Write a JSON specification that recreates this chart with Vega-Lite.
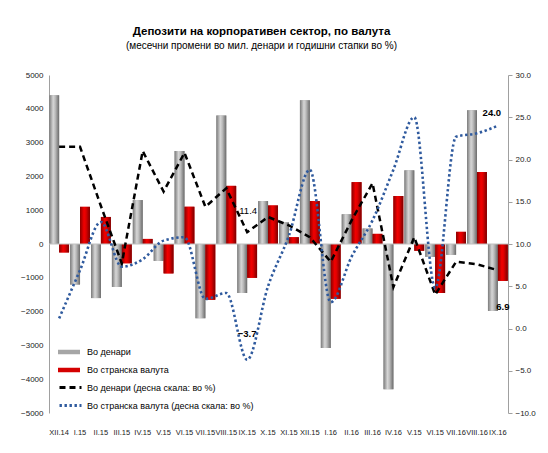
{
  "$schema": "https://vega.github.io/schema/vega-lite/v6.json",
  "width": 459,
  "height": 338,
  "autosize": {"type": "none"},
  "padding": {"left": 49, "top": 75, "right": 40, "bottom": 40},
  "background": "white",
  "title": {
    "text": "Депозити на корпоративен сектор, по валута",
    "subtitle": "(месечни промени во мил. денари и годишни стапки во %)",
    "anchor": "middle",
    "dx": -17,
    "font": "Liberation Sans",
    "fontSize": 11.5,
    "fontWeight": "bold",
    "color": "#000000",
    "subtitleFont": "Liberation Sans",
    "subtitleFontSize": 10,
    "subtitleColor": "#000000",
    "subtitlePadding": 4,
    "offset": 20
  },
  "datasets": {
    "bars": [
      {"i": 0, "m": "XII.14", "series": "Во денари", "value": 4400},
      {"i": 0, "m": "XII.14", "series": "Во странска валута", "value": -250},
      {"i": 1, "m": "I.15", "series": "Во денари", "value": -1200},
      {"i": 1, "m": "I.15", "series": "Во странска валута", "value": 1100},
      {"i": 2, "m": "II.15", "series": "Во денари", "value": -1600},
      {"i": 2, "m": "II.15", "series": "Во странска валута", "value": 800},
      {"i": 3, "m": "III.15", "series": "Во денари", "value": -1270},
      {"i": 3, "m": "III.15", "series": "Во странска валута", "value": -570},
      {"i": 4, "m": "IV.15", "series": "Во денари", "value": 1300},
      {"i": 4, "m": "IV.15", "series": "Во странска валута", "value": 150},
      {"i": 5, "m": "V.15", "series": "Во денари", "value": -500},
      {"i": 5, "m": "V.15", "series": "Во странска валута", "value": -870},
      {"i": 6, "m": "VI.15", "series": "Во денари", "value": 2750},
      {"i": 6, "m": "VI.15", "series": "Во странска валута", "value": 1100},
      {"i": 7, "m": "VII.15", "series": "Во денари", "value": -2200},
      {"i": 7, "m": "VII.15", "series": "Во странска валута", "value": -1650},
      {"i": 8, "m": "VIII.15", "series": "Во денари", "value": 3800},
      {"i": 8, "m": "VIII.15", "series": "Во странска валута", "value": 1720},
      {"i": 9, "m": "IX.15", "series": "Во денари", "value": -1450},
      {"i": 9, "m": "IX.15", "series": "Во странска валута", "value": -1000},
      {"i": 10, "m": "X.15", "series": "Во денари", "value": 1270},
      {"i": 10, "m": "X.15", "series": "Во странска валута", "value": 1140},
      {"i": 11, "m": "XI.15", "series": "Во денари", "value": 640},
      {"i": 11, "m": "XI.15", "series": "Во странска валута", "value": 200},
      {"i": 12, "m": "XII.15", "series": "Во денари", "value": 4250},
      {"i": 12, "m": "XII.15", "series": "Во странска валута", "value": 1270},
      {"i": 13, "m": "I.16", "series": "Во денари", "value": -3080},
      {"i": 13, "m": "I.16", "series": "Во странска валута", "value": -1620},
      {"i": 14, "m": "II.16", "series": "Во денари", "value": 880},
      {"i": 14, "m": "II.16", "series": "Во странска валута", "value": 1830},
      {"i": 15, "m": "III.16", "series": "Во денари", "value": 460},
      {"i": 15, "m": "III.16", "series": "Во странска валута", "value": 300},
      {"i": 16, "m": "IV.16", "series": "Во денари", "value": -4300},
      {"i": 16, "m": "IV.16", "series": "Во странска валута", "value": 1420},
      {"i": 17, "m": "V.15", "series": "Во денари", "value": 2180},
      {"i": 17, "m": "V.15", "series": "Во странска валута", "value": -200},
      {"i": 18, "m": "VI.15", "series": "Во денари", "value": -380},
      {"i": 18, "m": "VI.15", "series": "Во странска валута", "value": -1450},
      {"i": 19, "m": "VII.16", "series": "Во денари", "value": -320},
      {"i": 19, "m": "VII.16", "series": "Во странска валута", "value": 360},
      {"i": 20, "m": "VIII.16", "series": "Во денари", "value": 3960},
      {"i": 20, "m": "VIII.16", "series": "Во странска валута", "value": 2130},
      {"i": 21, "m": "IX.16", "series": "Во денари", "value": -1980},
      {"i": 21, "m": "IX.16", "series": "Во странска валута", "value": -1090}
    ],
    "lines": [
      {"i": 0, "m": "XII.14", "series": "Во денари (десна скала: во %)", "value": 21.5},
      {"i": 1, "m": "I.15", "series": "Во денари (десна скала: во %)", "value": 21.5},
      {"i": 2, "m": "II.15", "series": "Во денари (десна скала: во %)", "value": 14.5},
      {"i": 3, "m": "III.15", "series": "Во денари (десна скала: во %)", "value": 7.7},
      {"i": 4, "m": "IV.15", "series": "Во денари (десна скала: во %)", "value": 21.0},
      {"i": 5, "m": "V.15", "series": "Во денари (десна скала: во %)", "value": 16.2},
      {"i": 6, "m": "VI.15", "series": "Во денари (десна скала: во %)", "value": 20.8},
      {"i": 7, "m": "VII.15", "series": "Во денари (десна скала: во %)", "value": 14.4},
      {"i": 8, "m": "VIII.15", "series": "Во денари (десна скала: во %)", "value": 16.6},
      {"i": 9, "m": "IX.15", "series": "Во денари (десна скала: во %)", "value": 11.4},
      {"i": 10, "m": "X.15", "series": "Во денари (десна скала: во %)", "value": 13.2},
      {"i": 11, "m": "XI.15", "series": "Во денари (десна скала: во %)", "value": 12.2},
      {"i": 12, "m": "XII.15", "series": "Во денари (десна скала: во %)", "value": 10.8},
      {"i": 13, "m": "I.16", "series": "Во денари (десна скала: во %)", "value": 7.9},
      {"i": 14, "m": "II.16", "series": "Во денари (десна скала: во %)", "value": 12.8},
      {"i": 15, "m": "III.16", "series": "Во денари (десна скала: во %)", "value": 17.2},
      {"i": 16, "m": "IV.16", "series": "Во денари (десна скала: во %)", "value": 4.9},
      {"i": 17, "m": "V.15", "series": "Во денари (десна скала: во %)", "value": 10.8},
      {"i": 18, "m": "VI.15", "series": "Во денари (десна скала: во %)", "value": 4.0},
      {"i": 19, "m": "VII.16", "series": "Во денари (десна скала: во %)", "value": 7.9},
      {"i": 20, "m": "VIII.16", "series": "Во денари (десна скала: во %)", "value": 7.6},
      {"i": 21, "m": "IX.16", "series": "Во денари (десна скала: во %)", "value": 6.9},
      {"i": 0, "m": "XII.14", "series": "Во странска валута (десна скала: во %)", "value": 1.2},
      {"i": 1, "m": "I.15", "series": "Во странска валута (десна скала: во %)", "value": 6.9},
      {"i": 2, "m": "II.15", "series": "Во странска валута (десна скала: во %)", "value": 12.6},
      {"i": 3, "m": "III.15", "series": "Во странска валута (десна скала: во %)", "value": 7.3},
      {"i": 4, "m": "IV.15", "series": "Во странска валута (десна скала: во %)", "value": 8.2},
      {"i": 5, "m": "V.15", "series": "Во странска валута (десна скала: во %)", "value": 10.4},
      {"i": 6, "m": "VI.15", "series": "Во странска валута (десна скала: во %)", "value": 10.8},
      {"i": 7, "m": "VII.15", "series": "Во странска валута (десна скала: во %)", "value": 3.5},
      {"i": 8, "m": "VIII.15", "series": "Во странска валута (десна скала: во %)", "value": 4.2},
      {"i": 9, "m": "IX.15", "series": "Во странска валута (десна скала: во %)", "value": -3.7},
      {"i": 10, "m": "X.15", "series": "Во странска валута (десна скала: во %)", "value": 5.0},
      {"i": 11, "m": "XI.15", "series": "Во странска валута (десна скала: во %)", "value": 11.0},
      {"i": 12, "m": "XII.15", "series": "Во странска валута (десна скала: во %)", "value": 18.8},
      {"i": 13, "m": "I.16", "series": "Во странска валута (десна скала: во %)", "value": 3.1},
      {"i": 14, "m": "II.16", "series": "Во странска валута (десна скала: во %)", "value": 8.5},
      {"i": 15, "m": "III.16", "series": "Во странска валута (десна скала: во %)", "value": 12.8},
      {"i": 16, "m": "IV.16", "series": "Во странска валута (десна скала: во %)", "value": 18.8},
      {"i": 17, "m": "V.15", "series": "Во странска валута (десна скала: во %)", "value": 25.0},
      {"i": 18, "m": "VI.15", "series": "Во странска валута (десна скала: во %)", "value": 4.8},
      {"i": 19, "m": "VII.16", "series": "Во странска валута (десна скала: во %)", "value": 22.7},
      {"i": 20, "m": "VIII.16", "series": "Во странска валута (десна скала: во %)", "value": 23.1},
      {"i": 21, "m": "IX.16", "series": "Во странска валута (десна скала: во %)", "value": 24.0}
    ]
  },
  "layer": [
    {
      "layer": [
        {
          "data": {"name": "bars"},
          "transform": [{"filter": "datum.series == 'Во денари'"}],
          "mark": {"type": "bar", "width": {"band": 0.5}, "xOffset": -4.95},
          "encoding": {
            "x": {
              "field": "i",
              "type": "ordinal",
              "scale": {"paddingInner": 0.05, "paddingOuter": 0.01},
              "axis": {
                "title": null,
                "labelExpr": "['XII.14','I.15','II.15','III.15','IV.15','V.15','VI.15','VII.15','VIII.15','IX.15','X.15','XI.15','XII.15','I.16','II.16','III.16','IV.16','V.15','VI.15','VII.16','VIII.16','IX.16'][datum.value]",
                "labelAngle": 0,
                "domain": false,
                "ticks": false,
                "labelPadding": 15,
                "labelFontSize": 7.5,
                "labelOverlap": false,
                "labelBound": false
              }
            },
            "y": {
              "field": "value",
              "type": "quantitative",
              "stack": null,
              "scale": {"domain": [-5000, 5000], "nice": false},
              "axis": {
                "title": null,
                "orient": "left",
                "values": [-5000, -4000, -3000, -2000, -1000, 0, 1000, 2000, 3000, 4000, 5000],
                "tickCount": 11,
                "format": "d",
                "ticks": false,
                "labelOverlap": false,
                "labelSeparation": 0,
                "labelPadding": 6
              }
            },
            "fill": {
              "field": "series",
              "type": "nominal",
              "scale": {
                "domain": ["Во денари", "Во странска валута"],
                "range": ["#a6a6a6", "#d40000"]
              },
              "legend": {
                "orient": "none",
                "legendX": 15,
                "legendY": 272,
                "title": null,
                "padding": 0,
                "symbolType": "M-2.2,-0.45H2.2V0.45H-2.2Z",
                "symbolSize": 100,
                "symbolStrokeWidth": 0,
                "rowPadding": 8,
                "labelOffset": 13,
                "labelFontSize": 9,
                "labelColor": "#000000",
                "labelFont": "Liberation Sans",
                "labelLimit": 300
              }
            }
          }
        },
        {
          "data": {"name": "bars"},
          "transform": [{"filter": "datum.series == 'Во странска валута'"}],
          "mark": {"type": "bar", "width": {"band": 0.5}, "xOffset": 4.95},
          "encoding": {
            "x": {"field": "i", "type": "ordinal"},
            "y": {"field": "value", "type": "quantitative", "stack": null},
            "fill": {"field": "series", "type": "nominal"}
          }
        },
        {
          "data": {"name": "bars"},
          "transform": [{"filter": "datum.series == 'Во денари'"}],
          "mark": {
            "type": "bar", "width": {"band": 0.5}, "xOffset": -4.95,
            "color": {
              "gradient": "linear", "x1": 0, "x2": 1, "y1": 0, "y2": 0,
              "stops": [
                {"offset": 0, "color": "#7a7a7a"},
                {"offset": 0.4, "color": "#d6d6d6"},
                {"offset": 0.6, "color": "#bdbdbd"},
                {"offset": 1, "color": "#6a6a6a"}
              ]
            }
          },
          "encoding": {
            "x": {"field": "i", "type": "ordinal"},
            "y": {"field": "value", "type": "quantitative", "stack": null}
          }
        },
        {
          "data": {"name": "bars"},
          "transform": [{"filter": "datum.series == 'Во странска валута'"}],
          "mark": {
            "type": "bar", "width": {"band": 0.5}, "xOffset": 4.95,
            "color": {
              "gradient": "linear", "x1": 0, "x2": 1, "y1": 0, "y2": 0,
              "stops": [
                {"offset": 0, "color": "#8a0000"},
                {"offset": 0.4, "color": "#f20000"},
                {"offset": 0.6, "color": "#dd0000"},
                {"offset": 1, "color": "#7a0000"}
              ]
            }
          },
          "encoding": {
            "x": {"field": "i", "type": "ordinal"},
            "y": {"field": "value", "type": "quantitative", "stack": null}
          }
        },
        {
          "data": {"values": [{"v": 0}]},
          "mark": {"type": "rule", "color": "#c0c0c0", "strokeWidth": 1},
          "encoding": {
            "y": {"field": "v", "type": "quantitative"}
          }
        }
      ]
    },
    {
      "data": {"name": "lines"},
      "layer": [
        {
          "transform": [{"filter": "datum.series == 'Во денари (десна скала: во %)'"}],
          "mark": {"type": "line", "strokeWidth": 2.5},
          "encoding": {
            "x": {"field": "i", "type": "ordinal"},
            "y": {
              "field": "value",
              "type": "quantitative",
              "scale": {"domain": [-10, 30], "nice": false},
              "axis": {
                "title": null,
                "orient": "right",
                "values": [-10, -5, 0, 5, 10, 15, 20, 25, 30],
                "tickCount": 9,
                "format": ".1f",
                "ticks": true,
                "tickSize": 4,
                "labelOverlap": false,
                "labelPadding": 3
              }
            },
            "stroke": {
              "field": "series",
              "type": "nominal",
              "scale": {
                "domain": ["Во денари (десна скала: во %)", "Во странска валута (десна скала: во %)"],
                "range": ["#000000", "#2f5a9e"]
              },
              "legend": {
                "orient": "none",
                "legendX": 15,
                "legendY": 306,
                "title": null,
                "padding": 0,
                "symbolType": "M-2.2,0H2.2",
                "symbolSize": 100,
                "symbolStrokeWidth": 3,
                "rowPadding": 5,
                "labelOffset": 10,
                "labelFontSize": 9,
                "labelColor": "#000000",
                "labelFont": "Liberation Sans",
                "labelLimit": 300
              }
            },
            "strokeDash": {
              "field": "series",
              "type": "nominal",
              "scale": {
                "domain": ["Во денари (десна скала: во %)", "Во странска валута (десна скала: во %)"],
                "range": [[6, 4], [2.4, 2.6]]
              },
              "legend": {
                "orient": "none",
                "legendX": 15,
                "legendY": 306,
                "title": null,
                "padding": 0,
                "symbolType": "M-2.2,0H2.2",
                "symbolSize": 100,
                "symbolStrokeWidth": 3,
                "rowPadding": 5,
                "labelOffset": 10,
                "labelFontSize": 9,
                "labelColor": "#000000",
                "labelFont": "Liberation Sans",
                "labelLimit": 300
              }
            }
          }
        },
        {
          "transform": [{"filter": "datum.series == 'Во странска валута (десна скала: во %)'"}],
          "mark": {"type": "line", "strokeWidth": 2.6, "interpolate": "monotone"},
          "encoding": {
            "x": {"field": "i", "type": "ordinal"},
            "y": {"field": "value", "type": "quantitative"},
            "stroke": {"field": "series", "type": "nominal"},
            "strokeDash": {"field": "series", "type": "nominal"}
          }
        },
        {
          "transform": [{"filter": "datum.i == 9 && datum.series == 'Во денари (десна скала: во %)'"}],
          "mark": {"type": "text", "dx": 1, "dy": -21, "fontSize": 9.5, "color": "#000000"},
          "encoding": {
            "x": {"field": "i", "type": "ordinal"},
            "y": {"field": "value", "type": "quantitative"},
            "text": {"field": "value", "type": "quantitative", "format": ".1f"}
          }
        },
        {
          "transform": [{"filter": "datum.i == 9 && datum.series == 'Во странска валута (десна скала: во %)'"}],
          "mark": {"type": "text", "dx": 0, "dy": -26, "fontSize": 9.5, "fontWeight": "bold", "color": "#000000"},
          "encoding": {
            "x": {"field": "i", "type": "ordinal"},
            "y": {"field": "value", "type": "quantitative"},
            "text": {"field": "value", "type": "quantitative", "format": ".1f"}
          }
        },
        {
          "transform": [{"filter": "datum.i == 21 && datum.series == 'Во странска валута (десна скала: во %)'"}],
          "mark": {"type": "text", "dx": -6, "dy": -13, "fontSize": 9.5, "fontWeight": "bold", "color": "#000000"},
          "encoding": {
            "x": {"field": "i", "type": "ordinal"},
            "y": {"field": "value", "type": "quantitative"},
            "text": {"field": "value", "type": "quantitative", "format": ".1f"}
          }
        },
        {
          "transform": [{"filter": "datum.i == 21 && datum.series == 'Во денари (десна скала: во %)'"}],
          "mark": {"type": "text", "dx": 5, "dy": 37, "fontSize": 9.5, "fontWeight": "bold", "color": "#000000"},
          "encoding": {
            "x": {"field": "i", "type": "ordinal"},
            "y": {"field": "value", "type": "quantitative"},
            "text": {"field": "value", "type": "quantitative", "format": ".1f"}
          }
        }
      ]
    }
  ],
  "resolve": {"scale": {"y": "independent"}},
  "config": {
    "view": {"stroke": null},
    "font": "Liberation Sans",
    "axis": {
      "labelFont": "Liberation Sans",
      "labelFontSize": 8,
      "labelColor": "#222222",
      "grid": false,
      "domainColor": "#a0a0a0",
      "tickColor": "#a0a0a0"
    }
  }
}
